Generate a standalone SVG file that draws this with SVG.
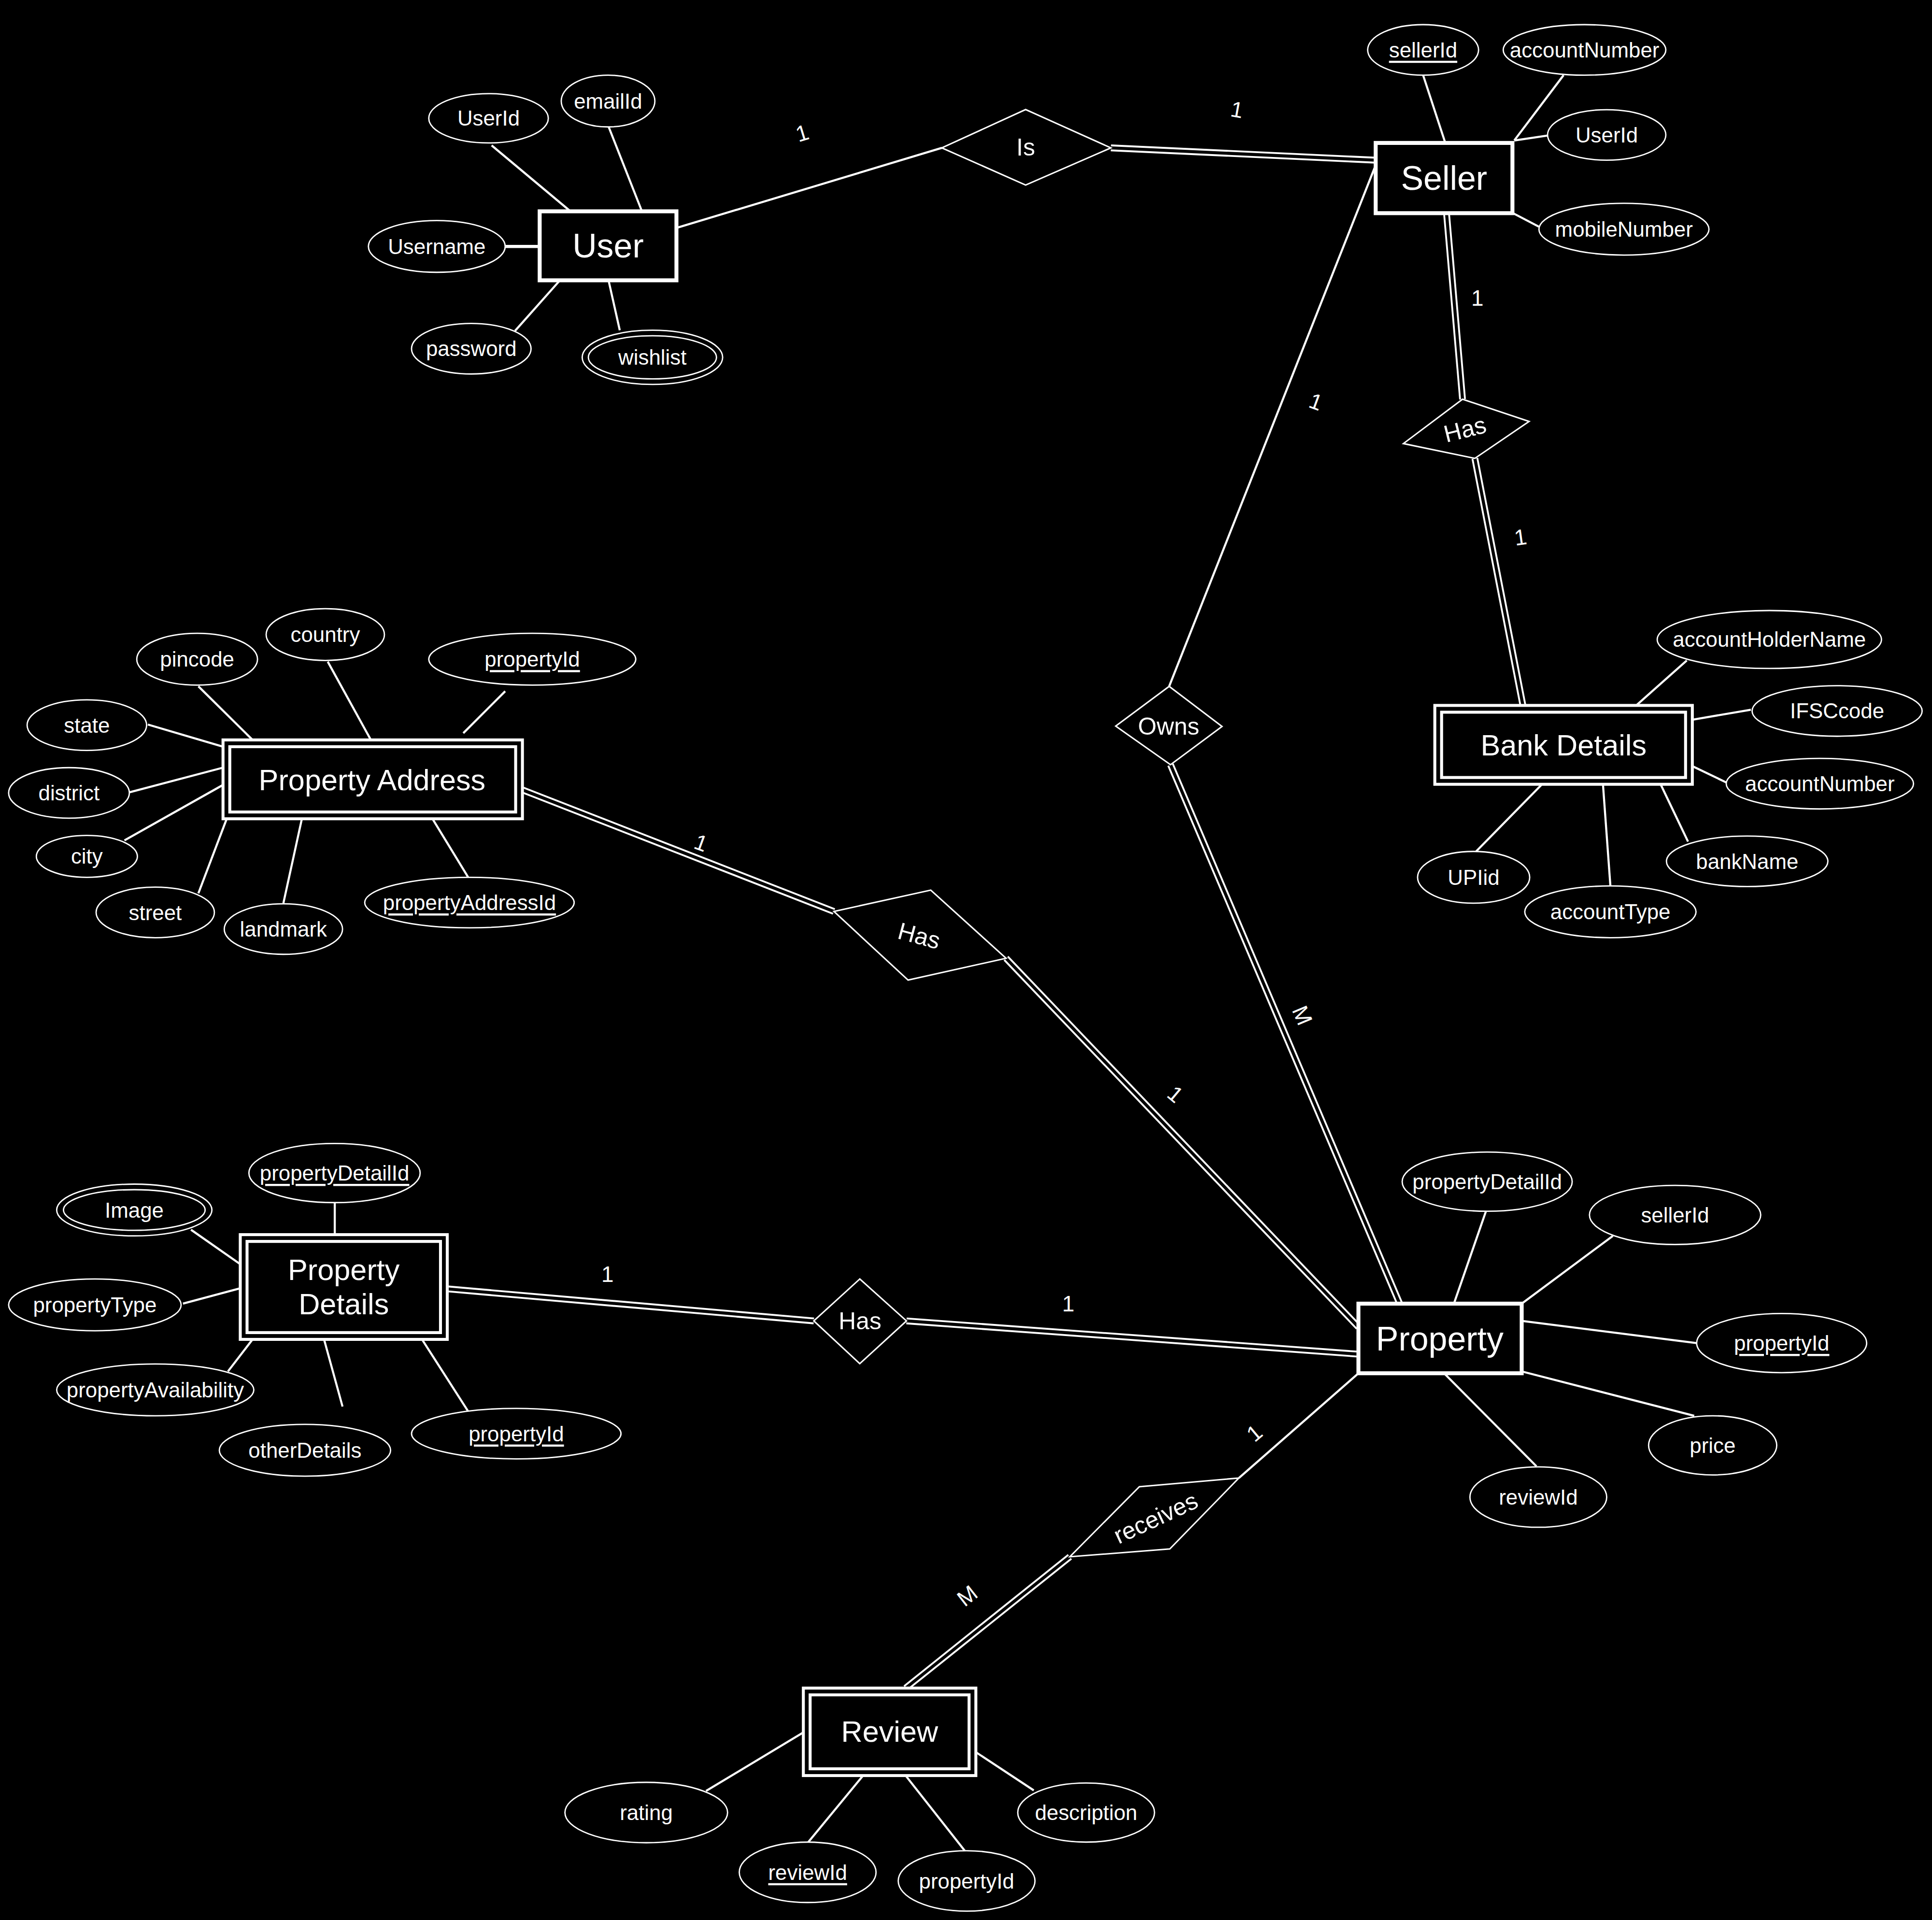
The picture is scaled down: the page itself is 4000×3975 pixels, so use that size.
<svg xmlns="http://www.w3.org/2000/svg" width="4000" height="3975" viewBox="0 0 4000 3975">
<defs>
<style>
.ln{stroke:#fff;stroke-width:1.7;fill:none}
.dbo{stroke:#fff;stroke-width:5.5;fill:none}
.dbi{stroke:#000;stroke-width:2.5;fill:none}
.ent{fill:#000;stroke:#fff;stroke-width:3.2}
.went{fill:#000;stroke:#fff;stroke-width:2.4}
.att{fill:#000;stroke:#fff;stroke-width:1.1}
.rel{fill:#000;stroke:#fff;stroke-width:1.2}
text{font-family:"Liberation Sans",Arial,Helvetica,sans-serif;fill:#fff;text-anchor:middle;dominant-baseline:central}
.ta{font-size:17.2px}
.te{font-size:27.4px}
.tw{font-size:24px}
.tr{font-size:19.5px}
.tc{font-size:18px}
.key{text-decoration:underline}
</style>
</defs>
<rect width="4000" height="3975" fill="#000"/>
<g transform="scale(2.551)">
<g id="connectors">
<!-- attribute lines -->
<line class="ln" x1="399" y1="118" x2="463" y2="171.5"/>
<line class="ln" x1="494" y1="103" x2="521" y2="171.5"/>
<line class="ln" x1="410" y1="200" x2="438" y2="200" style="stroke-width:2.6"/>
<line class="ln" x1="454" y1="228" x2="418" y2="268.5"/>
<line class="ln" x1="494" y1="228" x2="503" y2="268"/>
<line class="ln" x1="1155" y1="61" x2="1173" y2="116"/>
<line class="ln" x1="1269" y1="61" x2="1229" y2="114"/>
<line class="ln" x1="1256" y1="110" x2="1229" y2="114"/>
<line class="ln" x1="1228" y1="173" x2="1249" y2="184"/>
<line class="ln" x1="1369" y1="536" x2="1328" y2="572.5"/>
<line class="ln" x1="1421" y1="576" x2="1374" y2="584"/>
<line class="ln" x1="1401" y1="635" x2="1374" y2="622"/>
<line class="ln" x1="1370" y1="683" x2="1348" y2="637"/>
<line class="ln" x1="1307" y1="719" x2="1301" y2="637"/>
<line class="ln" x1="1198" y1="691" x2="1251" y2="637"/>
<line class="ln" x1="161" y1="557" x2="205" y2="600.5"/>
<line class="ln" x1="266" y1="537" x2="301" y2="600.5"/>
<line class="ln" x1="410" y1="561" x2="376" y2="595"/>
<line class="ln" x1="120" y1="588" x2="181" y2="606"/>
<line class="ln" x1="105" y1="643" x2="181" y2="623"/>
<line class="ln" x1="101" y1="682" x2="181" y2="637"/>
<line class="ln" x1="161" y1="725" x2="184" y2="664.5"/>
<line class="ln" x1="230" y1="733" x2="245" y2="664.5"/>
<line class="ln" x1="380" y1="712" x2="351" y2="664.5"/>
<line class="ln" x1="1206" y1="983" x2="1180" y2="1058"/>
<line class="ln" x1="1309" y1="1003" x2="1235" y2="1058"/>
<line class="ln" x1="1377" y1="1090" x2="1235" y2="1072"/>
<line class="ln" x1="1375" y1="1149" x2="1235" y2="1113"/>
<line class="ln" x1="1247" y1="1190" x2="1172" y2="1114.5"/>
<line class="ln" x1="271.7" y1="976" x2="271.7" y2="1002"/>
<line class="ln" x1="155" y1="998" x2="195" y2="1026"/>
<line class="ln" x1="148.5" y1="1058" x2="195" y2="1045.5"/>
<line class="ln" x1="185" y1="1113" x2="205" y2="1087"/>
<line class="ln" x1="263" y1="1087" x2="278" y2="1141.5"/>
<line class="ln" x1="342.5" y1="1087" x2="380" y2="1145.5"/>
<line class="ln" x1="573" y1="1453.5" x2="652" y2="1406"/>
<line class="ln" x1="656" y1="1495" x2="700.5" y2="1441"/>
<line class="ln" x1="783" y1="1502" x2="735" y2="1441"/>
<line class="ln" x1="839" y1="1453" x2="792" y2="1422"/>
<!-- relationship lines (single) -->
<line class="ln" x1="549" y1="185" x2="764.4" y2="120"/>
<line class="ln" x1="1116.5" y1="134" x2="948.9" y2="557"/>
<line class="ln" x1="1102.5" y1="1114.5" x2="1005.5" y2="1199.5"/>
<!-- relationship lines (double) -->
<g id="double-lines">
<line class="dbo" x1="901.6" y1="120" x2="1116.5" y2="130"/>
<line class="dbi" x1="901.6" y1="120" x2="1116.5" y2="130"/>
<line class="dbo" x1="1174" y1="173" x2="1187" y2="324"/>
<line class="dbi" x1="1174" y1="173" x2="1187" y2="324"/>
<line class="dbo" x1="1197" y1="372" x2="1236" y2="572.5"/>
<line class="dbi" x1="1197" y1="372" x2="1236" y2="572.5"/>
<line class="dbo" x1="950" y1="620.6" x2="1136" y2="1058"/>
<line class="dbi" x1="950" y1="620.6" x2="1136" y2="1058"/>
<line class="dbo" x1="424" y1="641" x2="676.8" y2="739.7"/>
<line class="dbi" x1="424" y1="641" x2="676.8" y2="739.7"/>
<line class="dbo" x1="816.5" y1="777.7" x2="1102.5" y2="1077"/>
<line class="dbi" x1="816.5" y1="777.7" x2="1102.5" y2="1077"/>
<line class="dbo" x1="363" y1="1046" x2="660.5" y2="1072"/>
<line class="dbi" x1="363" y1="1046" x2="660.5" y2="1072"/>
<line class="dbo" x1="735.7" y1="1072" x2="1102.5" y2="1099"/>
<line class="dbi" x1="735.7" y1="1072" x2="1102.5" y2="1099"/>
<line class="dbo" x1="868.3" y1="1263.4" x2="735" y2="1370"/>
<line class="dbi" x1="868.3" y1="1263.4" x2="735" y2="1370"/>
</g>
<!-- cardinalities -->
<text class="tc" transform="translate(651,108) rotate(-17)">1</text>
<text class="tc" transform="translate(1004,89) rotate(10)">1</text>
<text class="tc" transform="translate(1199,242)">1</text>
<text class="tc" transform="translate(1234,436) rotate(-8)">1</text>
<text class="tc" transform="translate(1068,326) rotate(20)">1</text>
<text class="tc" transform="translate(1057,824) rotate(67)">M</text>
<text class="tc" transform="translate(569,684) rotate(20)">1</text>
<text class="tc" transform="translate(954,888) rotate(40)">1</text>
<text class="tc" transform="translate(493,1034)">1</text>
<text class="tc" transform="translate(867,1058)">1</text>
<text class="tc" transform="translate(1018,1163) rotate(-40)">1</text>
<text class="tc" transform="translate(785,1295) rotate(-38)">M</text>
</g>

<!-- Entities -->
<g id="user">
<rect class="ent" x="438" y="171.5" width="111" height="56"/>
<text class="te" x="493.5" y="199.5">User</text>
</g>
<g id="user-userid"><ellipse class="att" cx="396.5" cy="96" rx="48.5" ry="20"/><text class="ta" x="396.5" y="96">UserId</text></g>
<g id="user-emailid"><ellipse class="att" cx="493.5" cy="82" rx="38" ry="21"/><text class="ta" x="493.5" y="82">emailId</text></g>
<g id="user-username"><ellipse class="att" cx="354.5" cy="200" rx="55.5" ry="21"/><text class="ta" x="354.5" y="200">Username</text></g>
<g id="user-password"><ellipse class="att" cx="382.5" cy="283" rx="48.5" ry="20.5"/><text class="ta" x="382.5" y="283">password</text></g>
<g id="user-wishlist"><ellipse class="att" cx="529.5" cy="290" rx="57" ry="22"/><ellipse class="att" cx="529.5" cy="290" rx="52" ry="17.5"/><text class="ta" x="529.5" y="290">wishlist</text></g>

<g id="seller">
<rect class="ent" x="1116.5" y="116" width="111" height="57"/>
<text class="te" x="1172" y="144.5">Seller</text>
</g>
<g id="seller-sellerid"><ellipse class="att" cx="1155" cy="40.5" rx="45" ry="20.5"/><text class="ta key" x="1155" y="40.5">sellerId</text></g>
<g id="seller-accountnumber"><ellipse class="att" cx="1286" cy="40.5" rx="66" ry="20.5"/><text class="ta" x="1286" y="40.5">accountNumber</text></g>
<g id="seller-userid"><ellipse class="att" cx="1304" cy="109.5" rx="48" ry="20.5"/><text class="ta" x="1304" y="109.5">UserId</text></g>
<g id="seller-mobilenumber"><ellipse class="att" cx="1318" cy="186" rx="69" ry="21"/><text class="ta" x="1318" y="186">mobileNumber</text></g>

<g id="rel-is"><polygon class="rel" points="764.4,120 832.4,88.9 901.6,120 832.4,150.2"/><text class="tr" x="832.5" y="119.5">Is</text></g>
<g id="rel-owns"><polygon class="rel" points="905.5,589.3 948.9,557 991.8,589.6 950,620.6"/><text class="tr" x="948.5" y="589.5">Owns</text></g>
<g id="rel-has-bank"><polygon class="rel" points="1139,360 1187,324 1241,342 1197,372"/><text class="tr" transform="translate(1189,348.5) rotate(-14)">Has</text></g>

<g id="bank-details">
<rect class="went" x="1164.5" y="572.5" width="209" height="64"/>
<rect class="went" x="1170" y="578" width="198" height="53"/>
<text class="tw" x="1269" y="605">Bank Details</text>
</g>
<g id="bank-holder"><ellipse class="att" cx="1436" cy="519" rx="91" ry="23.5"/><text class="ta" x="1436" y="519">accountHolderName</text></g>
<g id="bank-ifsc"><ellipse class="att" cx="1491" cy="577" rx="69" ry="20.5"/><text class="ta" x="1491" y="577">IFSCcode</text></g>
<g id="bank-accountnumber"><ellipse class="att" cx="1477" cy="636" rx="76" ry="20.5"/><text class="ta" x="1477" y="636">accountNumber</text></g>
<g id="bank-bankname"><ellipse class="att" cx="1418" cy="699" rx="65.5" ry="20.5"/><text class="ta" x="1418" y="699">bankName</text></g>
<g id="bank-accounttype"><ellipse class="att" cx="1307" cy="740" rx="69.5" ry="21"/><text class="ta" x="1307" y="740">accountType</text></g>
<g id="bank-upiid"><ellipse class="att" cx="1196" cy="712" rx="45.5" ry="21"/><text class="ta" x="1196" y="712">UPIid</text></g>

<g id="property-address">
<rect class="went" x="181" y="600.5" width="243" height="64"/>
<rect class="went" x="186.5" y="606" width="232" height="53"/>
<text class="tw" x="302" y="633">Property Address</text>
</g>
<g id="pa-pincode"><ellipse class="att" cx="160" cy="535" rx="49" ry="21"/><text class="ta" x="160" y="535">pincode</text></g>
<g id="pa-country"><ellipse class="att" cx="264" cy="515" rx="48" ry="21"/><text class="ta" x="264" y="515">country</text></g>
<g id="pa-propertyid"><ellipse class="att" cx="432" cy="535" rx="84" ry="21"/><text class="ta key" x="432" y="535">propertyId</text></g>
<g id="pa-state"><ellipse class="att" cx="70.5" cy="588.5" rx="48.5" ry="20.5"/><text class="ta" x="70.5" y="588.5">state</text></g>
<g id="pa-district"><ellipse class="att" cx="56" cy="643.5" rx="49" ry="20.5"/><text class="ta" x="56" y="643.5">district</text></g>
<g id="pa-city"><ellipse class="att" cx="70.5" cy="695" rx="41" ry="17"/><text class="ta" x="70.5" y="695">city</text></g>
<g id="pa-street"><ellipse class="att" cx="126" cy="740.5" rx="48" ry="20.5"/><text class="ta" x="126" y="740.5">street</text></g>
<g id="pa-landmark"><ellipse class="att" cx="230" cy="754" rx="48" ry="20.5"/><text class="ta" x="230" y="754">landmark</text></g>
<g id="pa-propertyaddressid"><ellipse class="att" cx="381" cy="732.5" rx="85" ry="20.5"/><text class="ta key" x="381" y="732.5">propertyAddressId</text></g>

<g id="rel-has-address"><polygon class="rel" points="676.8,739.7 755.4,722.4 816.5,777.7 737,795.4"/><text class="tr" transform="translate(746,759.5) rotate(15)">Has</text></g>

<g id="property">
<rect class="ent" x="1102.5" y="1058" width="132.5" height="56.5"/>
<text class="te" x="1168.5" y="1086.5">Property</text>
</g>
<g id="prop-propertydetailid"><ellipse class="att" cx="1207" cy="959" rx="69" ry="24"/><text class="ta" x="1207" y="959">propertyDetailId</text></g>
<g id="prop-sellerid"><ellipse class="att" cx="1359.5" cy="986" rx="69.5" ry="24"/><text class="ta" x="1359.5" y="986">sellerId</text></g>
<g id="prop-propertyid"><ellipse class="att" cx="1446" cy="1090" rx="69" ry="24"/><text class="ta key" x="1446" y="1090">propertyId</text></g>
<g id="prop-price"><ellipse class="att" cx="1390" cy="1173" rx="52" ry="24"/><text class="ta" x="1390" y="1173">price</text></g>
<g id="prop-reviewid"><ellipse class="att" cx="1248.5" cy="1215" rx="55.5" ry="24.5"/><text class="ta" x="1248.5" y="1215">reviewId</text></g>

<g id="property-details">
<rect class="went" x="195" y="1002" width="168" height="85"/>
<rect class="went" x="200.5" y="1007.5" width="157" height="74"/>
<text class="tw" x="279" y="1030.5">Property</text>
<text class="tw" x="279" y="1058.5">Details</text>
</g>
<g id="pd-propertydetailid"><ellipse class="att" cx="271.5" cy="952" rx="69.5" ry="24"/><text class="ta key" x="271.5" y="952">propertyDetailId</text></g>
<g id="pd-image"><ellipse class="att" cx="109" cy="982" rx="63" ry="21"/><ellipse class="att" cx="109" cy="982" rx="57.5" ry="16.5"/><text class="ta" x="109" y="982">Image</text></g>
<g id="pd-propertytype"><ellipse class="att" cx="77" cy="1059" rx="70" ry="21"/><text class="ta" x="77" y="1059">propertyType</text></g>
<g id="pd-availability"><ellipse class="att" cx="126" cy="1128" rx="80" ry="21"/><text class="ta" x="126" y="1128">propertyAvailability</text></g>
<g id="pd-otherdetails"><ellipse class="att" cx="247.5" cy="1177" rx="69.5" ry="21"/><text class="ta" x="247.5" y="1177">otherDetails</text></g>
<g id="pd-propertyid"><ellipse class="att" cx="419" cy="1163.5" rx="85" ry="20.5"/><text class="ta key" x="419" y="1163.5">propertyId</text></g>

<g id="rel-has-details"><polygon class="rel" points="660.5,1072 697.8,1038 735.7,1072 697.8,1106.7"/><text class="tr" x="698" y="1072">Has</text></g>

<g id="rel-receives"><polygon class="rel" points="1005.5,1199.5 924.7,1206.6 868.3,1263.4 949.4,1257.1"/><text class="tr" transform="translate(938,1232) rotate(-25)">receives</text></g>

<g id="review">
<rect class="went" x="652" y="1370" width="140" height="71"/>
<rect class="went" x="657.5" y="1375.5" width="129" height="60"/>
<text class="tw" x="722" y="1405.5">Review</text>
</g>
<g id="rev-rating"><ellipse class="att" cx="524.5" cy="1471" rx="66" ry="24.5"/><text class="ta" x="524.5" y="1471">rating</text></g>
<g id="rev-reviewid"><ellipse class="att" cx="655.5" cy="1519.5" rx="55.5" ry="24.5"/><text class="ta key" x="655.5" y="1519.5">reviewId</text></g>
<g id="rev-propertyid"><ellipse class="att" cx="784.5" cy="1526.5" rx="55.5" ry="24.5"/><text class="ta" x="784.5" y="1526.5">propertyId</text></g>
<g id="rev-description"><ellipse class="att" cx="881.5" cy="1471" rx="55.5" ry="24"/><text class="ta" x="881.5" y="1471">description</text></g>
</g>
</svg>
